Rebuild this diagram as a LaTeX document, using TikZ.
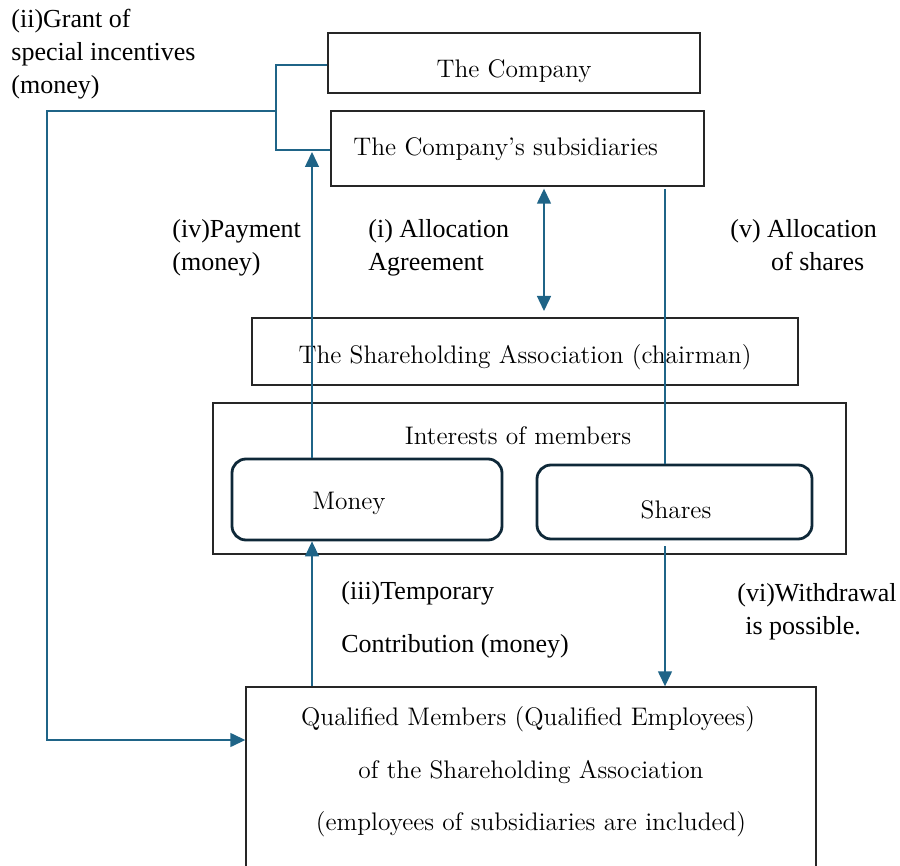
\documentclass[tikz,border=0pt]{standalone}
\usepackage{fontspec}
\newfontfamily\labfont{Liberation Serif}
\usetikzlibrary{arrows.meta,positioning}
\definecolor{conn}{RGB}{31,100,135}
\definecolor{navy}{RGB}{14,40,56}
\begin{document}
\begin{tikzpicture}[x=0.5pt,y=-0.5pt,
  box/.style={draw=black!85,line width=0.7pt,rectangle,inner sep=0pt},
  rbox/.style={draw=navy,line width=1.4pt,rectangle,rounded corners=7pt,inner sep=0pt},
  lab/.style={anchor=north west,align=left,inner sep=0pt,font=\labfont\fontsize{13}{16.5}\selectfont},
  txt/.style={inner sep=0pt,font=\fontsize{12.7}{14}\selectfont},
  conn/.style={draw=conn,line width=0.7pt},
  arr/.style={conn,-{Triangle[width=7pt,length=7.5pt]}},
  darr/.style={conn,{Triangle[width=7pt,length=7.5pt]}-{Triangle[width=7pt,length=7.5pt]}}]
\useasboundingbox (0,0) rectangle (900,866);
% boxes
\node[box,minimum width=186pt,minimum height=30pt] (comp) at (514,63) {};
\node[txt] (compt) at (514,71) {The Company};
\node[box,minimum width=186.5pt,minimum height=37.5pt] (subs) at (517.5,148.5) {};
\node[txt,anchor=west] (subst) at (353,149) {The Company’s subsidiaries};
\node[box,minimum width=273pt,minimum height=33.5pt] (sha) at (525,351.5) {};
\node[txt] (shat) at (525,357) {The Shareholding Association (chairman)};
\node[box,minimum width=316.5pt,minimum height=75.5pt] (intr) at (529.5,478.5) {};
\node[txt] (intrt) at (518,436) {Interests of members};
\node[rbox,minimum width=135pt,minimum height=40.5pt] (money) at (367,499.5) {};
\node[txt] (moneyt) at (349,503) {Money};
\node[rbox,minimum width=137.5pt,minimum height=37pt] (shares) at (674.5,502) {};
\node[txt] (sharest) at (676,510) {Shares};
\node[box,minimum width=285pt,minimum height=100pt] (qual) at (531,787) {};
\node[txt] (qt1) at (528,719) {Qualified Members (Qualified Employees)};
\node[txt] (qt2) at (531,772) {of the Shareholding Association};
\node[txt] (qt3) at (531,824) {(employees of subsidiaries are included)};
% labels
\node[lab] (l2) at (11,9) {(ii)Grant of\\special incentives\\(money)};
\node[lab] (l4) at (172,219) {(iv)Payment\\(money)};
\node[lab] (l1) at (368,219) {(i) Allocation\\Agreement};
\node[lab,align=center] (l5) at (730,219) {(v) Allocation\\\hspace*{14pt}of shares};
\node[lab] (l3a) at (341,581) {(iii)Temporary};
\node[lab] (l3b) at (341,634) {Contribution (money)};
\node[lab,align=left] (l6) at (737,583) {(vi)Withdrawal\\\hspace*{4pt}is possible.};
% connectors
\coordinate (bx) at (276,111);
\coordinate (lx) at (47,740);
\draw[conn] (comp.west |- 0,65) -| (bx) |- (subs.west |- 0,150);
\draw[arr] (bx) -| (lx) -- (lx -| qual.west);
\draw[arr] (money.north -| 312,0) -- (312,152);
\draw[darr] (subs.south -| 544,0) ++(0,2) -- (544,311);
\draw[conn] (665,189) -- (shares.north -| 665,0);
\draw[arr] (665,546) -- (qual.north -| 665,0);
\draw[arr] (qual.north -| 312,0) -- (money.south -| 312,0);
\end{tikzpicture}
\end{document}
